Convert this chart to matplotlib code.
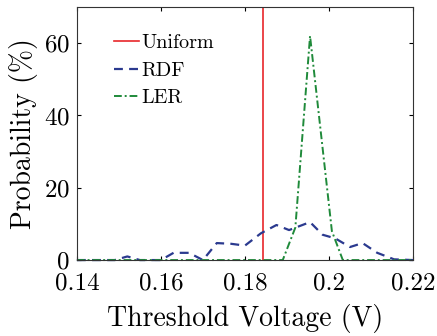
import numpy as np
import matplotlib
matplotlib.use('Agg')
import matplotlib.pyplot as plt

# data
uniform_vt = 0.1843

rdf_x = [0.14, 0.149, 0.152, 0.155, 0.160, 0.163, 0.1667, 0.170, 0.1733, 0.1767,
         0.180, 0.1838, 0.1875, 0.1905, 0.1955, 0.1985, 0.2015, 0.205, 0.208,
         0.2115, 0.2155, 0.22]
rdf_y = [0, 0, 1.0, 0, 0, 2.0, 2.0, 0, 4.7, 4.5,
         4.0, 7.4, 9.7, 8.3, 10.5, 7.0, 6.0, 3.6, 4.7,
         2.0, 0.2, 0]

ler_x = [0.14, 0.189, 0.192, 0.1955, 0.2007, 0.2033, 0.22]
ler_y = [0, 0, 9.0, 62.0, 8.0, 0, 0]

xticks = [0.14, 0.16, 0.18, 0.2, 0.22]
xtick_labels = ['0.14', '0.16', '0.18', '0.2', '0.22']
yticks = [0, 20, 40, 60]

plt.rcParams['font.family'] = 'serif'
plt.rcParams['font.serif'] = ['cmr10', 'DejaVu Serif']
plt.rcParams['axes.formatter.use_mathtext'] = True

fig = plt.figure(figsize=(4.37, 3.36), dpi=100)
ax = fig.add_axes([0.176, 0.226, 0.769, 0.753])

ax.axvline(uniform_vt, color='#e8262a', lw=1.2, label='Uniform')
ax.plot(rdf_x, rdf_y, color='#2b3a8f', lw=1.6, ls=(0, (4, 2.8)), label='RDF', clip_on=False)
ax.plot(ler_x, ler_y, color='#1f8a3a', lw=1.4, ls=(0, (4, 1.5, 1, 1.5)), label='LER', clip_on=False)

ax.set_xlim(0.14, 0.22)
ax.set_ylim(0, 70)
ax.set_xticks(xticks)
ax.set_xticklabels(xtick_labels)
ax.set_yticks(yticks)
ax.tick_params(direction='in', top=True, right=True, length=3, labelsize=18)
ax.tick_params(axis='x', pad=9)
ax.tick_params(axis='y', pad=5)
for s in ax.spines.values():
    s.set_linewidth(0.8)
    s.set_color('#333333')

ax.set_xlabel('Threshold Voltage (V)', fontsize=20, labelpad=7)
ax.set_ylabel('Probability (%)', fontsize=20, labelpad=4)

ax.legend(loc='upper left', frameon=False, fontsize=14.5, handlelength=1.25,
          handletextpad=0.1, labelspacing=0.45, borderpad=0, borderaxespad=0,
          bbox_to_anchor=(0.11, 0.892))

fig.savefig('out.png', dpi=100)
